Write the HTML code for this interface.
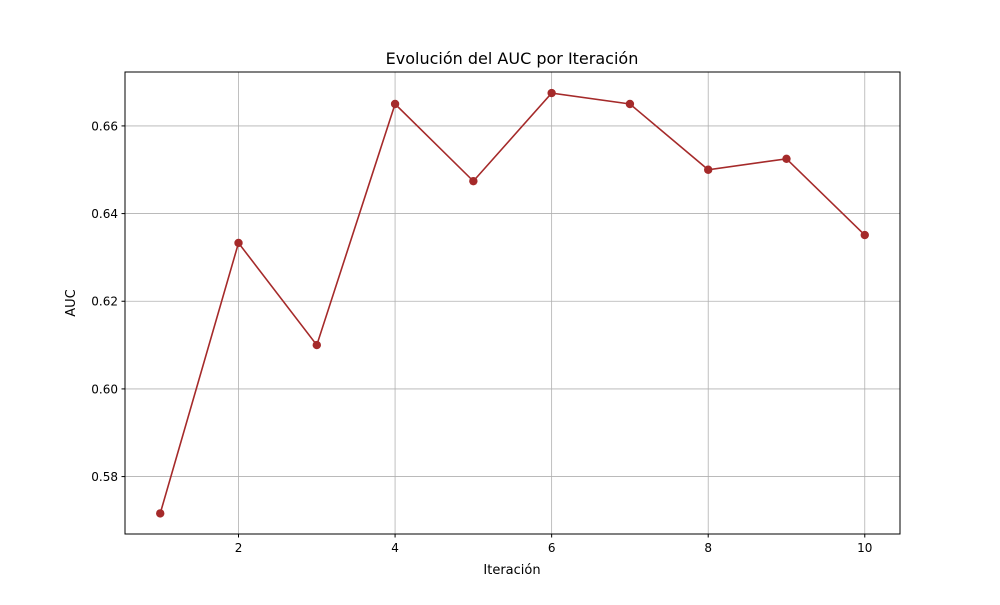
<!DOCTYPE html>
<html><head><meta charset="utf-8"><style>
body{margin:0;background:#fff;font-family:"Liberation Sans","DejaVu Sans",sans-serif}
svg text{font-family:"DejaVu Sans","Liberation Sans",sans-serif}
</style></head><body>
<svg id="chart" width="1000" height="600">
<rect width="1000" height="600" fill="#fff"/>
<g id="grid"></g>
<g id="marks"></g>
<rect x="125" y="72" width="775" height="462" fill="none" stroke="#000" stroke-width="1"/>
<g id="ticks"></g>
<text x="512" y="64" text-anchor="middle" font-size="16">Evolución del AUC por Iteración</text>
<text x="512" y="574" text-anchor="middle" font-size="13">Iteración</text>
<text x="75" y="303" text-anchor="middle" font-size="13" transform="rotate(-90 75 303)">AUC</text>
</svg>
<script>
const iterations=[1,2,3,4,5,6,7,8,9,10];
const aucValues=[0.5716,0.6333,0.6100,0.6650,0.6474,0.6675,0.6650,0.6500,0.6525,0.6351];
const xTicks=[2,4,6,8,10];
const yTicks=[0.58,0.60,0.62,0.64,0.66];
const yTickLabels=["0.58","0.60","0.62","0.64","0.66"];
const ns="http://www.w3.org/2000/svg";
const X0=125,X1=900,Y0=72,Y1=534;
const xMin=0.55,xMax=10.45,yMin=0.5669,yMax=0.6723;
const xs=v=>X0+(v-xMin)/(xMax-xMin)*(X1-X0);
const ys=v=>Y1-(v-yMin)/(yMax-yMin)*(Y1-Y0);
function mk(tag,attrs,parent){const e=document.createElementNS(ns,tag);for(const k in attrs)e.setAttribute(k,attrs[k]);document.getElementById(parent).appendChild(e);return e;}
xTicks.forEach(t=>{const x=xs(t);
 let g=mk('line',{x1:x,x2:x,y1:Y0,y2:Y1,stroke:'#b0b0b0','stroke-width':0.8},'grid');
 
 
 let tk=mk('line',{x1:x,x2:x,y1:Y1,y2:Y1+3.5,stroke:'#000'},'ticks');
 
 
 let tx=mk('text',{x:x,y:Y1+18,'text-anchor':'middle','font-size':12},'ticks');tx.textContent=t;
 
 
});
yTicks.forEach((t,i)=>{const y=ys(t);
 let g=mk('line',{x1:X0,x2:X1,y1:y,y2:y,stroke:'#b0b0b0','stroke-width':0.8},'grid');
 
 
 let tk=mk('line',{x1:X0-3.5,x2:X0,y1:y,y2:y,stroke:'#000'},'ticks');
 
 
 let tx=mk('text',{x:X0-7,y:y+4.5,'text-anchor':'end','font-size':12},'ticks');tx.textContent=yTickLabels[i];
 
 
});
const pts=iterations.map((v,i)=>xs(v)+','+ys(aucValues[i])).join(' ');
let pl=mk('polyline',{points:pts,fill:'none',stroke:'#a52a2a','stroke-width':1.6},'marks');


iterations.forEach((v,i)=>{
 let c=mk('circle',{cx:xs(v),cy:ys(aucValues[i]),r:4.2,fill:'#a52a2a'},'marks');
 
 
});
</script>
</body></html>
